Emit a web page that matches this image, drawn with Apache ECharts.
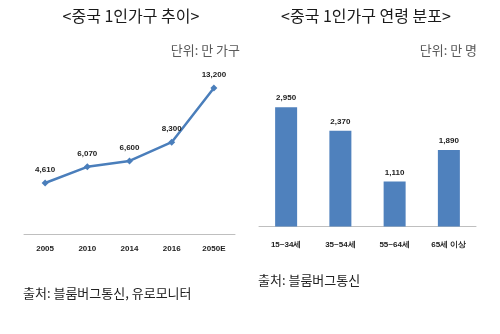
<!DOCTYPE html>
<html>
<head>
<meta charset="utf-8">
<script src="https://cdn.jsdelivr.net/npm/echarts@6/dist/echarts.min.js"></script>
<style>html,body{margin:0;padding:0;background:#fff;}#c{width:500px;height:334px;}</style>
</head>
<body>
<div id="c"></div>
<script>
const yearCategories = ['2005', '2010', '2014', '2016', '2050E'];
const householdValues = [4610, 6070, 6600, 8300, 13200];
const ageCategories = ['15~34세', '35~54세', '55~64세', '65세 이상'];
const ageValues = [2950, 2370, 1110, 1890];

const KR = '"Noto Sans CJK KR", "Noto Sans", sans-serif';
const NUM = '"Liberation Sans", Arial, sans-serif';
const NARROW = '"Liberation Sans Narrow", "Liberation Sans", Arial, sans-serif';
const fmt = v => v.toLocaleString('en-US');

const chart = echarts.init(document.getElementById('c'));
chart.setOption({
  animation: false,
  backgroundColor: '#ffffff',
  graphic: [
    {type: 'text', style: {x: 131, y: 16, text: '<중국 1인가구 추이>', textAlign: 'center', textVerticalAlign: 'middle', font: '16px ' + KR, fill: '#1a1a1a'}},
    {type: 'text', style: {x: 366, y: 16, text: '<중국 1인가구 연령 분포>', textAlign: 'center', textVerticalAlign: 'middle', font: '16px ' + KR, fill: '#1a1a1a'}},
    {type: 'text', style: {x: 240, y: 50, text: '단위: 만 가구', textAlign: 'right', textVerticalAlign: 'middle', font: '13px ' + KR, fill: '#595959'}},
    {type: 'text', style: {x: 477, y: 50, text: '단위: 만 명', textAlign: 'right', textVerticalAlign: 'middle', font: '13px ' + KR, fill: '#595959'}},
    {type: 'text', style: {x: 23, y: 293, text: '출처: 블룸버그통신, 유로모니터', textAlign: 'left', textVerticalAlign: 'middle', font: '13px ' + KR, fill: '#222222'}},
    {type: 'text', style: {x: 258, y: 280, text: '출처: 블룸버그통신', textAlign: 'left', textVerticalAlign: 'middle', font: '13px ' + KR, fill: '#222222'}}
  ],
  grid: [
    {left: 24, width: 211, top: 68, height: 166},
    {left: 259, width: 217, top: 85, height: 141.5}
  ],
  xAxis: [
    {type: 'category', gridIndex: 0, data: yearCategories,
     axisLine: {lineStyle: {color: '#bfbfbf', width: 1}},
     axisTick: {length: 4, lineStyle: {color: '#bfbfbf'}},
     axisLabel: {margin: 11, fontFamily: NUM, fontWeight: 'bold', fontSize: 8, color: '#222'}},
    {type: 'category', gridIndex: 1, data: ageCategories,
     axisLine: {lineStyle: {color: '#bfbfbf', width: 1}},
     axisTick: {length: 4, lineStyle: {color: '#bfbfbf'}},
     axisLabel: {margin: 14, fontFamily: NUM, fontWeight: 'bold', fontSize: 8, color: '#222'}}
  ],
  yAxis: [
    {type: 'value', gridIndex: 0, min: 0, max: 15000, show: false, splitLine: {show: false}},
    {type: 'value', gridIndex: 1, min: 0, max: 3500, show: false, splitLine: {show: false}}
  ],
  series: [
    {type: 'line', xAxisIndex: 0, yAxisIndex: 0, data: householdValues,
     symbol: 'diamond', symbolSize: 7,
     lineStyle: {color: '#4a7ebb', width: 2.5},
     itemStyle: {color: '#4a7ebb'},
     label: {show: true, position: 'top', distance: 6, formatter: p => fmt(p.value),
             fontFamily: NUM, fontWeight: 'bold', fontSize: 8, color: '#222'}},
    {type: 'bar', xAxisIndex: 1, yAxisIndex: 1, data: ageValues,
     barWidth: 22,
     itemStyle: {color: '#4f81bd'},
     label: {show: true, position: 'top', distance: 5, formatter: p => fmt(p.value),
             fontFamily: NARROW, fontWeight: 'bold', fontSize: 8, color: '#222'}}
  ]
});
</script>
</body>
</html>
